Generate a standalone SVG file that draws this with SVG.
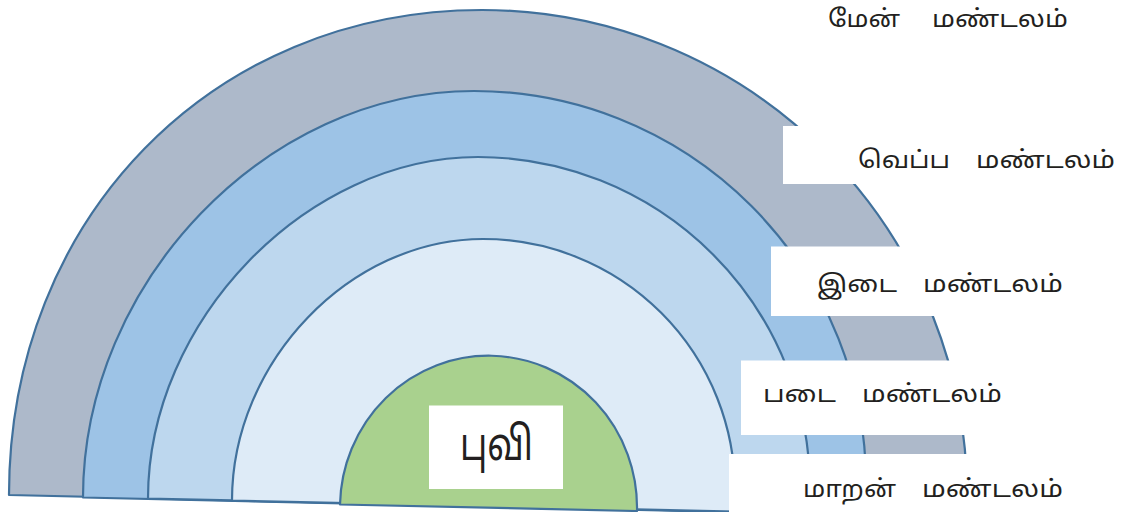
<svg xmlns="http://www.w3.org/2000/svg" width="1128" height="512" viewBox="0 0 1128 512">
<style>
.band{stroke:#41719C;stroke-width:2.2;stroke-linejoin:round}
.box{fill:#FFFFFF;stroke:none}
.lbl{font-family:"Noto Sans Tamil","Latha","Lohit Tamil","Noto Sans",sans-serif;font-size:24px;fill:#231F20}
.big{font-size:46px}
</style>
<g id="layer-men">
<path class="band" fill="#ADB9CA" d="M 9 495 C 9 218.5 212.4 10 482 10 A 485 485 0 0 1 967 495 L 967 517 Z"/>
</g>
<g id="layer-veppa">
<path class="band" fill="#9DC3E6" d="M 83 497.5 C 83 282.1 266.8 91 474 91 A 392 392 0 0 1 866 483 L 866 515 Z"/>
</g>
<g id="layer-idai">
<path class="band" fill="#BDD7EE" d="M 148 498.5 C 148 320.9 306.4 157 478 157 A 332 332 0 0 1 810 489 L 810 513 Z"/>
</g>
<g id="layer-padai">
<path class="band" fill="#DEEBF7" d="M 232 500.5 C 232 361.9 350 239 483 239 A 252 252 0 0 1 735 491 L 735 511.5 Z"/>
</g>
<g id="layer-maaran">
<path class="band" fill="#A9D18E" d="M 340 504.5 A 148.5 152 1.25 0 1 637 511 Z"/>
</g>
<g id="label-men">
<text class="lbl" x="828" y="27" textLength="72" lengthAdjust="spacingAndGlyphs">மேன்</text>
<text class="lbl" x="932" y="27" textLength="136" lengthAdjust="spacingAndGlyphs">மண்டலம்</text>
</g>
<g id="label-veppa">
<rect class="box" x="783" y="126" width="345" height="58"/>
<text class="lbl" x="858" y="168" textLength="92" lengthAdjust="spacingAndGlyphs">வெப்ப</text>
<text class="lbl" x="976" y="168" textLength="139" lengthAdjust="spacingAndGlyphs">மண்டலம்</text>
</g>
<g id="label-idai">
<rect class="box" x="771" y="246.5" width="357" height="69.5"/>
<text class="lbl" x="817" y="291.5" textLength="80" lengthAdjust="spacingAndGlyphs">இடை</text>
<text class="lbl" x="923" y="291.5" textLength="140" lengthAdjust="spacingAndGlyphs">மண்டலம்</text>
</g>
<g id="label-padai">
<rect class="box" x="741" y="360.5" width="387" height="74.5"/>
<text class="lbl" x="763" y="401.5" textLength="73" lengthAdjust="spacingAndGlyphs">படை</text>
<text class="lbl" x="862" y="401.5" textLength="140" lengthAdjust="spacingAndGlyphs">மண்டலம்</text>
</g>
<g id="label-maaran">
<rect class="box" x="729" y="454" width="399" height="58"/>
<text class="lbl" x="803" y="496.5" textLength="93" lengthAdjust="spacingAndGlyphs">மாறன்</text>
<text class="lbl" x="922" y="496.5" textLength="141" lengthAdjust="spacingAndGlyphs">மண்டலம்</text>
</g>
<g id="label-puvi">
<rect class="box" x="429" y="405.5" width="134" height="83.5"/>
<text class="lbl big" x="460" y="460" textLength="73" lengthAdjust="spacingAndGlyphs">புவி</text>
</g>
<g id="connectors"/>
</svg>
